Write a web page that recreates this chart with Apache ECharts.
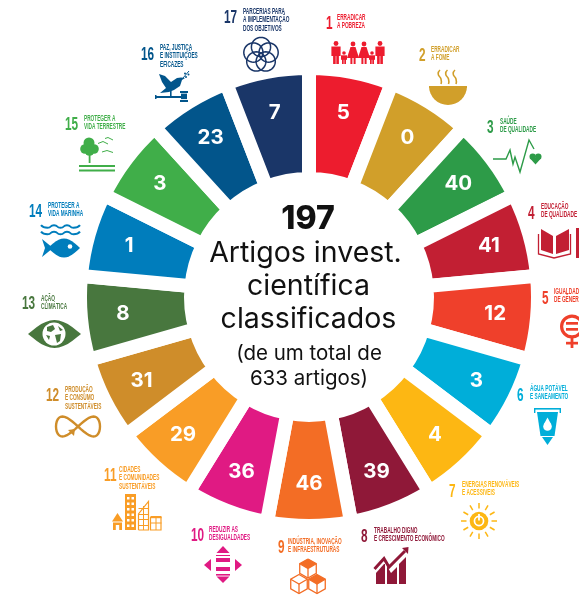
<!DOCTYPE html>
<html>
<head>
<meta charset="utf-8">
<style>
    html, body { margin: 0; padding: 0; background: #fff; }
    #main { width: 579px; height: 595px; }
</style>
<script src="https://cdn.jsdelivr.net/npm/echarts@6/dist/echarts.min.js"></script>
</head>
<body>
<div id="main"></div>
<script>
// artigos por ODS
var articles = [5, 0, 40, 41, 12, 3, 4, 39, 46, 36, 29, 31, 8, 1, 3, 23, 7];
var goalNames = [
    'ERRADICAR\nA POBREZA', 'ERRADICAR\nA FOME', 'SAÚDE\nDE QUALIDADE', 'EDUCAÇÃO\nDE QUALIDADE',
    'IGUALDADE\nDE GÊNERO', 'ÁGUA POTÁVEL\nE SANEAMENTO', 'ENERGIAS RENOVÁVEIS\nE ACESSÍVEIS',
    'TRABALHO DIGNO\nE CRESCIMENTO ECONÔMICO', 'INDÚSTRIA, INOVAÇÃO\nE INFRAESTRUTURAS',
    'REDUZIR AS\nDESIGUALDADES', 'CIDADES\nE COMUNIDADES\nSUSTENTÁVEIS', 'PRODUÇÃO\nE CONSUMO\nSUSTENTÁVEIS',
    'AÇÃO\nCLIMÁTICA', 'PROTEGER A\nVIDA MARINHA', 'PROTEGER A\nVIDA TERRESTRE',
    'PAZ, JUSTIÇA\nE INSTITUIÇÕES\nEFICAZES', 'PARCERIAS PARA\nA IMPLEMENTAÇÃO\nDOS OBJETIVOS'
];
var goalColors = [
    '#ED1C2E', '#D19F2A', '#2D9B48', '#C21F33', '#EF402B', '#00AED9', '#FDB713', '#8F1838', '#F36D25',
    '#E01A83', '#F99D26', '#CF8D2A', '#48773E', '#007DBC', '#40AE49', '#02558B', '#1A3668'
];
var centerTotal = '197';
var centerLines = ['Artigos invest.', 'científica', 'classificados'];
var centerNote = ['(de um total de', '633 artigos)'];

// posicao do numero e do titulo de cada ODS: [x num, y num, x titulo, y titulo]
var captionPos = [
    [326, 14, 337, 13], [419, 46, 431, 45], [487, 118, 500, 117], [528, 204, 541, 202],
    [542, 289, 554, 287], [517, 386, 530, 384], [449, 482, 462, 480], [361, 527, 374, 526],
    [278, 538, 288, 537], [191, 526, 209, 525], [104, 466, 119, 465], [46, 386, 65, 385],
    [22, 294, 41, 294], [29, 202, 48, 201], [65, 115, 84, 114], [141, 45, 160, 43], [224, 8, 243, 7]
];

var RAD = Math.PI / 180;

function rect(x, y, w, h, c) {
    return {type: 'rect', shape: {x: x, y: y, width: w, height: h}, style: {fill: c}};
}
function circ(x, y, r, c) {
    return {type: 'circle', shape: {cx: x, cy: y, r: r}, style: {fill: c}};
}
function ring(x, y, r, r0, c) {
    return {type: 'ring', shape: {cx: x, cy: y, r: r, r0: r0}, style: {fill: c}};
}
function poly(pts, c) {
    return {type: 'polygon', shape: {points: pts}, style: {fill: c}};
}
function stroke(pts, c, w, smooth) {
    return {type: 'polyline', shape: {points: pts, smooth: smooth || 0}, style: {fill: 'none', stroke: c, lineWidth: w}};
}
function lens(x0, x1, cy, h, c) {
    var pts = [];
    for (var i = 0; i <= 24; i++) {
        var k = i <= 12 ? i / 12 : (24 - i) / 12;
        pts.push([x0 + (x1 - x0) * k, cy + (i <= 12 ? -1 : 1) * h * Math.sin(k * Math.PI)]);
    }
    return poly(pts, c);
}
function circlePoints(x, y, r) {
    var pts = [];
    for (var i = 0; i <= 36; i++) {
        pts.push([x + r * Math.cos(i * 10 * RAD), y + r * Math.sin(i * 10 * RAD)]);
    }
    return pts;
}

function adult(x, c) {
    return [circ(x, 43.5, 2.4, c), rect(x - 4.6, 46.5, 9.2, 9.5, c), rect(x - 2.9, 55, 2.6, 9, c), rect(x + 0.3, 55, 2.6, 9, c)];
}
function woman(x, c) {
    return [circ(x, 44, 2.4, c), poly([[x - 2.5, 47], [x + 2.5, 47], [x + 6, 58], [x - 6, 58]], c), rect(x - 2.6, 57, 2, 7, c), rect(x + 0.6, 57, 2, 7, c)];
}
function child(x, c) {
    return [circ(x, 53, 1.8, c), rect(x - 3, 55.3, 6, 4.5, c), rect(x - 2, 59, 1.7, 5, c), rect(x + 0.3, 59, 1.7, 5, c)];
}
function cube(cx, cy, s, c, filled) {
    var d = s * 0.87;
    return [
        poly([[cx, cy - s], [cx + d, cy - s / 2], [cx, cy], [cx - d, cy - s / 2]], filled ? c : '#fff'),
        stroke([[cx, cy - s], [cx + d, cy - s / 2], [cx + d, cy + s / 2], [cx, cy + s], [cx - d, cy + s / 2], [cx - d, cy - s / 2], [cx, cy - s]], c, 1.3),
        stroke([[cx - d, cy - s / 2], [cx, cy], [cx + d, cy - s / 2]], c, 1.3),
        stroke([[cx, cy], [cx, cy + s]], c, 1.3)
    ];
}

function goalIcons() {
    var el = [], i, j, a, c;
    function add(list) { el = el.concat(list); }

    // 1
    c = goalColors[0];
    add(adult(336, c)); add(child(344, c)); add(woman(353, c)); add(woman(364, c)); add(child(372, c)); add(adult(380, c));
    // 2
    c = goalColors[1];
    add([{type: 'sector', shape: {cx: 448, cy: 86, r: 19, r0: 0, startAngle: 0, endAngle: Math.PI, clockwise: true}, style: {fill: c}}]);
    add([rect(429, 86, 38, 2, c)]);
    [440, 447.5, 455].forEach(function (x) {
        add([stroke([[x, 70], [x - 1.8, 74], [x + 1, 79], [x + 1, 84]], c, 1.6, 0.6)]);
    });
    // 3
    c = goalColors[2];
    add([stroke([[493, 159], [506, 159], [510, 150], [513, 164], [515, 157], [520, 172], [529, 140], [534, 149]], c, 1.4)]);
    add([circ(532.7, 156.6, 3.2, c), circ(538.3, 156.6, 3.2, c), poly([[529.7, 158], [541.3, 158], [535.5, 164.5]], c)]);
    // 4
    c = goalColors[3];
    add([stroke([[538.5, 234], [538.5, 254], [554, 258], [570.5, 254], [570.5, 234]], c, 1.3)]);
    add([poly([[541, 229], [553, 236], [553, 254], [541, 250]], c), poly([[556, 236], [569, 229], [569, 250], [556, 254]], c), rect(576, 228, 3, 30, c)]);
    // 5
    c = goalColors[4];
    add([ring(572, 326.5, 12, 8.8, c), rect(566, 322, 12, 2.7, c), rect(566, 328, 12, 2.7, c), rect(570.6, 338, 2.8, 10, c), rect(566, 341.8, 12, 2.7, c)]);
    // 6
    c = goalColors[5];
    add([rect(534, 408, 27, 1.6, c), rect(534, 408, 1.4, 5, c), rect(559.6, 408, 1.4, 5, c)]);
    add([poly([[537, 412], [558, 412], [554.5, 436], [540.5, 436]], c), poly([[542, 437], [553, 437], [547.5, 445]], c)]);
    add([circ(547.5, 426.5, 4.3, '#fff'), poly([[547.5, 417.5], [551.3, 424.5], [543.7, 424.5]], '#fff')]);
    // 7
    c = goalColors[6];
    add([circ(479, 521, 9.3, c), ring(479, 521, 5.4, 3.7, '#fff'), rect(478.1, 514, 1.8, 6.5, '#fff')]);
    for (i = 0; i < 12; i++) {
        a = i * 30 * RAD;
        add([stroke([[479 + 12.5 * Math.cos(a), 521 + 12.5 * Math.sin(a)], [479 + 18 * Math.cos(a), 521 + 18 * Math.sin(a)]], c, 1.5)]);
    }
    // 8
    c = goalColors[7];
    add([stroke([[374.5, 569], [384, 558.5], [389, 567], [405, 551]], c, 3)]);
    add([poly([[402, 548], [408.5, 547], [408, 554]], c)]);
    add([poly([[376, 573], [384, 564], [385, 564], [385, 584], [376, 584]], c)]);
    add([poly([[387, 566], [391, 573], [397, 567], [397, 584], [387, 584]], c)]);
    add([poly([[399, 564], [406, 557], [406, 584], [399, 584]], c)]);
    // 9
    c = goalColors[8];
    add(cube(308, 568.5, 9.5, c, true));
    add(cube(299, 584, 9.5, c, false));
    add(cube(317, 584, 9.5, c, true));
    // 10
    c = goalColors[9];
    add([poly([[223, 546], [229.5, 553], [216.5, 553]], c), poly([[223, 583], [229.5, 576.5], [216.5, 576.5]], c)]);
    add([poly([[204, 565], [211, 559], [211, 571]], c), poly([[242, 565], [235, 559], [235, 571]], c)]);
    add([rect(216, 558, 14, 4, c), rect(216, 567, 14, 4, c), rect(216, 574, 14, 1.6, c), rect(216, 555, 14, 1, c)]);
    // 11
    c = goalColors[10];
    add([poly([[112, 521.5], [117.5, 513], [123, 521.5]], c), rect(113, 522.5, 9, 7.5, c), rect(115.8, 525, 3.4, 5, '#fff')]);
    add([rect(125, 494, 11, 36, c)]);
    for (j = 0; j < 6; j++) {
        add([rect(127, 497 + j * 5.5, 2.5, 2.5, '#fff'), rect(131.5, 497 + j * 5.5, 2.5, 2.5, '#fff')]);
    }
    add([stroke([[138.5, 530], [138.5, 514], [148.5, 501.5], [148.5, 530], [138.5, 530]], c, 1.2)]);
    [508, 514, 519, 525].forEach(function (y) { add([rect(138.5, y, 10, 1, c)]); });
    add([rect(143, 506, 1, 24, c)]);
    add([rect(150.5, 516, 11, 2.2, c), stroke([[150.5, 517], [150.5, 530], [161, 530], [161, 517]], c, 1.2), rect(150.5, 522.5, 11, 1, c), rect(155.5, 518, 1, 12, c)]);
    // 12
    c = goalColors[11];
    var loop = [];
    for (i = 0; i <= 48; i++) {
        a = i / 48 * 2 * Math.PI;
        loop.push([78 + 22 * Math.cos(a), 426.5 + 20 * Math.sin(a) * Math.cos(a)]);
    }
    add([stroke(loop, c, 2.4), poly([[68, 430], [75, 429], [74, 436]], c)]);
    // 13
    c = goalColors[12];
    add([lens(28, 81, 334, 14, c), circ(54, 334, 11.5, '#fff')]);
    add([poly([[47, 327], [53, 325], [55, 329], [51, 332], [47, 331]], c), poly([[55, 335], [61, 334], [60, 341], [57, 343]], c), poly([[58, 326], [63, 330], [60, 331]], c), poly([[46, 335], [50, 336], [49, 340]], c)]);
    // 14
    c = goalColors[13];
    [226.5, 233].forEach(function (y) {
        var pts = [];
        for (j = 0; j <= 6; j++) { pts.push([41 + j * 6.5, y + (j % 2 ? 1.3 : -1.3)]); }
        add([stroke(pts, c, 2, 0.7)]);
    });
    add([lens(48, 80, 248, 9.5, c), poly([[42, 239], [53, 248], [42, 257], [45, 248]], c), circ(70, 246.5, 2.3, '#fff')]);
    // 15
    c = goalColors[14];
    add([circ(89, 143, 5.5, c), circ(85, 149, 4.8, c), circ(94, 149, 4.8, c), circ(89.5, 151, 4.8, c), rect(88.7, 155, 1.8, 8, c), rect(79, 165, 36, 2, c), rect(79, 169.5, 36, 2, c)]);
    add([stroke([[98, 143.5], [103, 141.5], [108, 144]], c, 1), stroke([[105, 138.5], [108, 137.5], [113, 140]], c, 1), stroke([[102, 152], [107, 150.5], [113, 152.5]], c, 1)]);
    // 16
    c = goalColors[15];
    add([poly([[159, 74], [165, 76], [171, 82], [177, 78], [181, 77.5], [185, 78], [182, 80], [180, 86], [174, 90], [169, 92], [160, 93], [166, 88], [162, 82]], c)]);
    add([stroke([[183, 78], [189, 71]], c, 1), circ(186, 77, 1, c), circ(188.5, 74.5, 1, c), circ(185, 73.5, 1, c)]);
    add([rect(170, 91, 1.6, 6, c), rect(155, 96, 26, 2, c), rect(155, 95, 1.5, 4, c), rect(180, 91, 8, 2, c), rect(181, 93.6, 6, 5.5, c), rect(180, 100, 8, 2, c)]);
    // 17
    c = goalColors[16];
    for (i = 0; i < 5; i++) {
        a = (-90 + 72 * i) * RAD;
        add([stroke(circlePoints(261 + 8 * Math.cos(a), 55 + 8 * Math.sin(a), 9.6), c, 1.5)]);
    }
    return el;
}

// nao ha fonte condensada instalada, entao a Liberation Sans e estreitada com scaleX
function captions() {
    var el = [];
    goalNames.forEach(function (name, i) {
        var p = captionPos[i];
        el.push({
            type: 'text', x: p[0], y: p[1], scaleX: 0.62,
            style: {text: String(i + 1), fill: goalColors[i], fontFamily: 'Liberation Sans', fontWeight: 'bold', fontSize: 19}
        });
        el.push({
            type: 'text', x: p[2], y: p[3], scaleX: 0.58,
            style: {text: name, fill: goalColors[i], fontFamily: 'Liberation Sans', fontWeight: 'bold', fontSize: 8.2, lineHeight: 8.8}
        });
    });
    return el;
}

function centerText() {
    var el = [];
    function line(text, x, y, size, weight) {
        el.push({
            type: 'text', x: x, y: y,
            style: {text: text, fill: '#111', fontFamily: 'Inter', fontWeight: weight, fontSize: size, textAlign: 'center', textVerticalAlign: 'middle'}
        });
    }
    line(centerTotal, 308, 219, 32, 800);
    centerLines.forEach(function (t, i) { line(t, i === 0 ? 305.5 : 308.5, 253 + i * 33, 28.5, 400); });
    centerNote.forEach(function (t, i) { line(t, 309, 354 + i * 25, 20.5, 400); });
    return el;
}

// fatias iguais, o numero de artigos vai no rotulo
var sliceData = articles.map(function (v, i) {
    return {value: 1, name: goalNames[i], itemStyle: {color: goalColors[i]}};
});

// z alto: a borda branca das fatias nao pode cobrir os titulos
var overlay = centerText().concat(captions(), goalIcons()).map(function (el) {
    el.z = 20;
    el.silent = true;
    return el;
});

var myChart = echarts.init(document.getElementById('main'), null, {renderer: 'canvas'});
myChart.setOption({
    animation: false,
    tooltip: {show: false},
    graphic: {elements: overlay},
    series: [
        {
            type: 'pie',
            center: [309, 297],
            radius: [118, 229],
            startAngle: 90,
            silent: true,
            label: {show: false},
            labelLine: {show: false},
            itemStyle: {borderColor: '#fff', borderWidth: 14, borderJoin: 'miter'},
            data: sliceData
        },
        {
            type: 'pie',
            center: [309, 297],
            radius: [139, 229],
            startAngle: 90,
            silent: true,
            itemStyle: {color: 'transparent'},
            labelLine: {show: false},
            label: {
                show: true,
                position: 'inside',
                color: '#fff',
                fontFamily: 'Inter',
                fontWeight: 700,
                fontSize: 20.5,
                formatter: function (p) { return articles[p.dataIndex]; }
            },
            data: sliceData.map(function (d) { return {value: d.value, name: d.name}; })
        }
    ]
});
</script>
</body>
</html>
